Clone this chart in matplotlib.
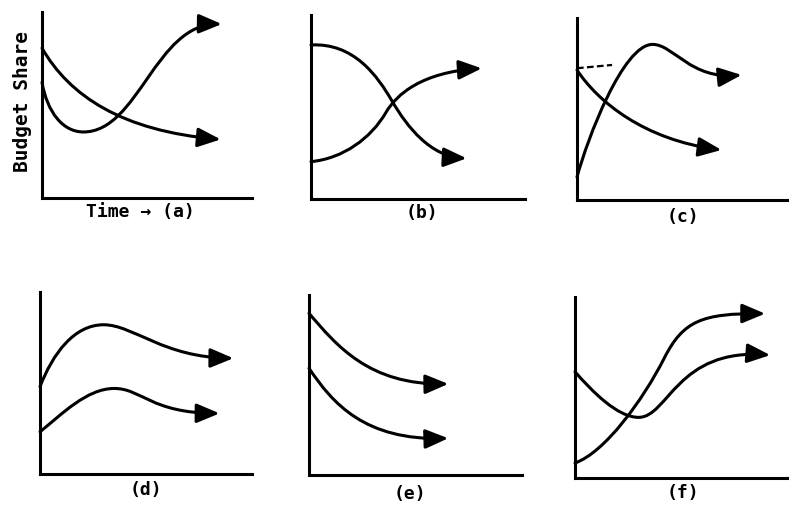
import matplotlib.pyplot as plt
from matplotlib.path import Path
from matplotlib.patches import FancyArrowPatch

W, H = 789, 509

# panel frames in pixels: left, right, top, bottom
frames = {
    "a": (42, 252, 12, 198),
    "b": (311, 525, 15, 199),
    "c": (577, 787, 18, 200),
    "d": (40, 252, 292, 474),
    "e": (309, 522, 295, 475),
    "f": (575, 787, 297, 478),
}

# panel captions (text, x, y) in pixels
captions = [
    ("Time \u2192 (a)", 140, 212),
    ("(b)", 422, 213),
    ("(c)", 683, 217),
    ("(d)", 146, 490),
    ("(e)", 410, 494),
    ("(f)", 683, 493),
]

# cubic bezier vertices (knot, ctrl, ctrl, knot, ...) of the budget-share
# paths, each axis scaled 0..100
curves = {
    "a": [
        [(0, 62.2), (2.5, 46), (10, 35.5), (19.7, 35.5),
         (46, 35.5), (54, 94), (85.6, 93.5)],
        [(0, 80.6), (13, 55), (38, 36), (85.1, 31.5)],
    ],
    "b": [
        [(0, 83.7), (20, 85), (31, 67), (38, 53),
         (45, 39), (56, 23), (72.7, 22.1)],
        [(0, 20.3), (15, 22), (28, 33), (35, 47),
         (40, 57), (52, 69), (79.8, 71)],
    ],
    "c": [
        [(0, 71.4), (10, 54), (32, 33), (68.8, 27.5)],
        [(0, 12.6), (5, 34), (22, 85.5), (36, 85.5),
         (46, 85.5), (54, 66), (78.4, 68.7)],
    ],
    "d": [
        [(0, 48), (6, 66), (16, 82), (30, 82),
         (44, 82), (58, 64), (91.2, 63.6)],
        [(0, 23.2), (10, 32.5), (22, 47), (35, 47),
         (48, 47), (52, 33.5), (84.7, 33.3)],
    ],
    "e": [
        [(0, 89.8), (13, 72), (28, 50), (65.4, 50.6)],
        [(0, 59.3), (11, 40), (26, 19), (65.4, 20.4)],
    ],
    "f": [
        [(0, 8.3), (14, 14), (32, 43), (42, 66),
         (51, 87), (60, 91), (89.7, 90.8)],
        [(0, 58.7), (8, 48), (20, 33.5), (30, 33.5),
         (44, 33.5), (48, 72), (92.1, 67.9)],
    ],
}

# short dashed guide in panel (c)
dash_c = [(0, 72.4), (16.7, 74.2)]


def bezier_path(verts):
    codes = [Path.MOVETO] + [Path.CURVE4] * (len(verts) - 1)
    return Path(verts, codes)


fig = plt.figure(figsize=(W / 100, H / 100), dpi=100)
fig.patch.set_facecolor("white")

axes = {}
for key, (l, r, t, b) in frames.items():
    ax = fig.add_axes([l / W, 1 - b / H, (r - l) / W, (b - t) / H])
    ax.set_xlim(0, 100)
    ax.set_ylim(0, 100)
    ax.set_xticks([])
    ax.set_yticks([])
    for s in ("top", "right"):
        ax.spines[s].set_visible(False)
    for s in ("left", "bottom"):
        ax.spines[s].set_linewidth(2.2)
        ax.spines[s].set_color("black")
    ax.patch.set_alpha(0)
    axes[key] = ax

    for verts in curves[key]:
        arrow = FancyArrowPatch(
            path=bezier_path(verts),
            arrowstyle="-|>,head_length=1.0,head_width=0.42",
            mutation_scale=14,
            lw=2.2,
            color="black",
            transform=ax.transData,
            clip_on=False,
            shrinkA=0, shrinkB=0,
        )
        ax.add_patch(arrow)

xs, ys = zip(*dash_c)
axes["c"].plot(xs, ys, color="black", lw=1.6, ls=(0, (3, 1.5)), clip_on=False)

mono = "DejaVu Sans Mono"
for txt, x, y in captions:
    fig.text(x / W, 1 - y / H, txt, ha="center", va="center",
             family=mono, fontsize=13, fontweight="bold")

fig.text(23 / W, 1 - 101 / H, "Budget Share", rotation=90, ha="center", va="center",
         family=mono, fontsize=14, fontweight="bold")

fig.savefig("out.png", dpi=100)
